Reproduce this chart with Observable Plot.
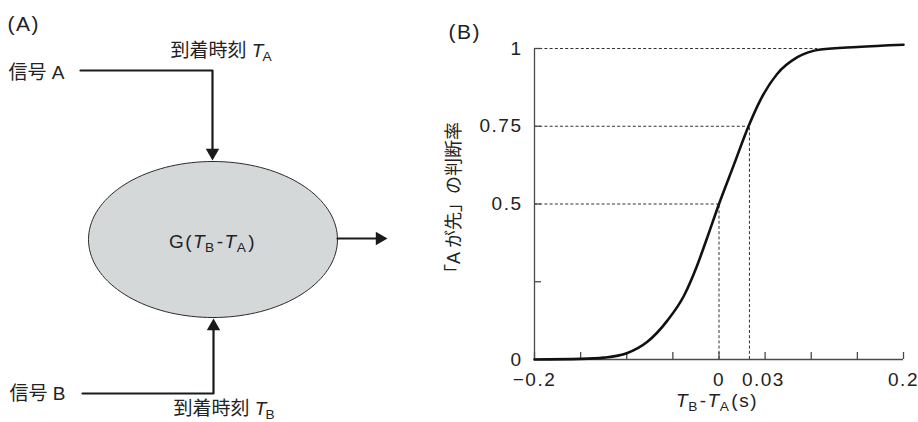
<!DOCTYPE html>
<html><head><meta charset="utf-8">
<script src="https://cdn.jsdelivr.net/npm/d3@7"></script>
<script src="https://cdn.jsdelivr.net/npm/@observablehq/plot@0.6"></script>
<style>
body{margin:0;background:#fff;}
#wrap{display:flex;width:918px;height:422px;background:#fff;}
svg{display:block}
</style></head><body><div id="wrap"></div>
<script>
// ---------- Panel B data ----------
const curveX = [-0.2, -0.15, -0.125, -0.1, -0.078, -0.056, -0.038, -0.024, -0.013, 0, 0.016, 0.032, 0.045, 0.063, 0.085, 0.11, 0.15, 0.2];
const curveY = [0, 0.002, 0.006, 0.02, 0.056, 0.125, 0.205, 0.3, 0.39, 0.5, 0.625, 0.75, 0.835, 0.918, 0.972, 0.997, 1.005, 1.012];
const guideLevels = [1, 0.75, 0.5];
const guideCross = [0.107, 0.033, 0];
const xTickValues = [-0.2, -0.15, -0.1, -0.05, 0, 0.05, 0.1, 0.15, 0.2];
const yTickValues = [0, 0.25, 0.5, 0.75, 1];
const xLabelValues = [-0.2, 0, 0.2];
const xLabelTexts = ["−0.2", "0", "0.2"];
const xExtraLabelValue = [0.033];
const xExtraLabelText = ["0.03"];
const yLabelValues = [0, 0.5, 0.75, 1];
const yLabelTexts = ["0", "0.5", "0.75", "1"];
const xTitle = "T_B-T_A(s)";
const yTitle = "「A が先」の判断率";
const panelBTitle = "(B)";

// ---------- Panel A texts ----------
const panelATitle = "(A)";
const signalLabels = ["信号 A", "信号 B"];
const arrivalLabels = ["到着時刻 T_A", "到着時刻 T_B"];
const nodeLabel = "G(T_B-T_A)";

const FONT = "'Liberation Sans', 'Noto Sans CJK JP', sans-serif";
const INK = "#1a1a1a";

// ---------- Panel A (schematic diagram, pixel layout) ----------
const cx = 212.5, cy = 239, rx = 124.5, ry = 78;
const ellipse = d3.range(145).map(i => {
  const a = i / 144 * 2 * Math.PI;
  return {x: cx + rx * Math.cos(a), y: cy + ry * Math.sin(a)};
});
const wires = [
  {g: "a", x: 80, y: 70}, {g: "a", x: 212, y: 70}, {g: "a", x: 212, y: 152},
  {g: "b", x: 82, y: 393}, {g: "b", x: 213, y: 393}, {g: "b", x: 213, y: 326},
  {g: "o", x: 337, y: 238}, {g: "o", x: 379, y: 238}
];
const heads = [
  {x: 212, y: 152.2, rot: 180},
  {x: 213, y: 325.8, rot: 0},
  {x: 379.2, y: 238, rot: 90}
];
const titlesA = [{x: 7, y: 24, t: panelATitle}];
const textsStart = [
  {x: 170, y: 50, t: arrivalLabels[0]},
  {x: 8, y: 72, t: signalLabels[0]},
  {x: 9, y: 393, t: signalLabels[1]},
  {x: 173, y: 408, t: arrivalLabels[1]}
];
const textsMiddle = [
  {x: 212, y: 241, t: nodeLabel}
];

const plotA = Plot.plot({
  width: 430, height: 422, margin: 0,
  x: {domain: [0, 430], range: [0, 430], axis: null},
  y: {domain: [0, 422], range: [0, 422], axis: null},
  style: {fontFamily: FONT, fontSize: "19px", background: "white", overflow: "visible"},
  marks: [
    Plot.line(ellipse, {x: "x", y: "y", curve: "linear-closed", fill: "#d5d8d8", stroke: "#2b2b2b", strokeWidth: 1}),
    Plot.line(wires, {x: "x", y: "y", z: "g", stroke: INK, strokeWidth: 2.2}),
    Plot.dot(heads, {x: "x", y: "y", rotate: "rot", symbol: "triangle", r: 5, fill: INK, stroke: "none"}),
    Plot.text(titlesA, {x: "x", y: "y", text: "t", textAnchor: "start", fill: "#222", fontSize: 21}),
    Plot.text(textsStart, {x: "x", y: "y", text: "t", textAnchor: "start", fill: "#222"}),
    Plot.text(textsMiddle, {x: "x", y: "y", text: "t", textAnchor: "middle", fill: "#222"})
  ]
});

// ---------- Panel B plot ----------
const curve = curveX.map((x, i) => ({x, y: curveY[i]}));
const guides = guideLevels.map((level, i) => ({level, cross: guideCross[i]}));
const dash = {stroke: "#333", strokeWidth: 1, strokeDasharray: "3,2.2"};
const axisStyle = {stroke: "#4a4a4a", strokeWidth: 1.3};
const plotH = 422 - 48 - 63, plotW = 488 - 104 - 15;

const plotB = Plot.plot({
  width: 488, height: 422,
  marginLeft: 104, marginRight: 15, marginTop: 48, marginBottom: 63,
  x: {domain: [-0.2, 0.2], axis: null},
  y: {domain: [0, 1], axis: null},
  style: {fontFamily: FONT, fontSize: "19px", background: "white", overflow: "visible"},
  marks: [
    Plot.ruleY(guides, {y: "level", x1: -0.2, x2: "cross", ...dash}),
    Plot.ruleX(guides.filter(d => d.level < 1), {x: "cross", y1: 0, y2: "level", ...dash}),
    Plot.ruleY([0], axisStyle),
    Plot.ruleX([-0.2], axisStyle),
    Plot.tickX(xTickValues, {x: d => d, insetTop: plotH - 7, ...axisStyle}),
    Plot.tickY(yTickValues, {y: d => d, insetRight: plotW - 7, ...axisStyle}),
    Plot.line(curve, {x: "x", y: "y", curve: "monotone-x", stroke: "#111", strokeWidth: 2.6}),
    Plot.text(yLabelValues, {x: -0.2, y: d => d, text: (d, i) => yLabelTexts[i], dx: -12, textAnchor: "end", fill: "#222"}),
    Plot.text(xLabelValues, {x: d => d, y: 0, text: (d, i) => xLabelTexts[i], dy: 20, textAnchor: "middle", fill: "#222"}),
    Plot.text(xExtraLabelValue, {x: d => d, y: 0, text: (d, i) => xExtraLabelText[i], dy: 20, dx: 14, textAnchor: "middle", fill: "#222"}),
    Plot.text([xTitle], {x: 0, y: 0, text: d => d, dy: 41, dx: -2, textAnchor: "middle", fill: "#222"}),
    Plot.text([yTitle], {frameAnchor: "left", text: d => d, dx: -80, dy: -2, rotate: -90, textAnchor: "middle", fill: "#222", fontSize: 18}),
    Plot.text([panelBTitle], {frameAnchor: "top-left", text: d => d, dx: -86, dy: -24, textAnchor: "start", fill: "#222", fontSize: 21})
  ]
});

// letter spacing for latin labels + subscripts
function postProcess(svg) {
  d3.select(svg).selectAll("text").each(function() {
    const t = this.textContent;
    const sel = d3.select(this);
    if (!/[\u3000-\u9fff]/.test(t)) sel.style("letter-spacing", "1.5px");
    if (!/T_[AB]/.test(t)) return;
    sel.text(null);
    const parts = t.split(/(T_[AB])/);
    let reset = false;
    for (const p of parts) {
      if (!p) continue;
      const m = p.match(/^T_([AB])$/);
      if (m) {
        sel.append("tspan").attr("font-style", "italic").attr("dy", reset ? -4.5 : null).text("T");
        sel.append("tspan").attr("font-size", "0.72em").attr("dy", 4.5).attr("dx", -1).text(m[1]);
        reset = true;
      } else {
        sel.append("tspan").attr("dy", reset ? -4.5 : null).attr("dx", reset ? 1 : null).text(p);
        reset = false;
      }
    }
  });
}
postProcess(plotA);
postProcess(plotB);
document.getElementById("wrap").append(plotA, plotB);
</script>
</body></html>
